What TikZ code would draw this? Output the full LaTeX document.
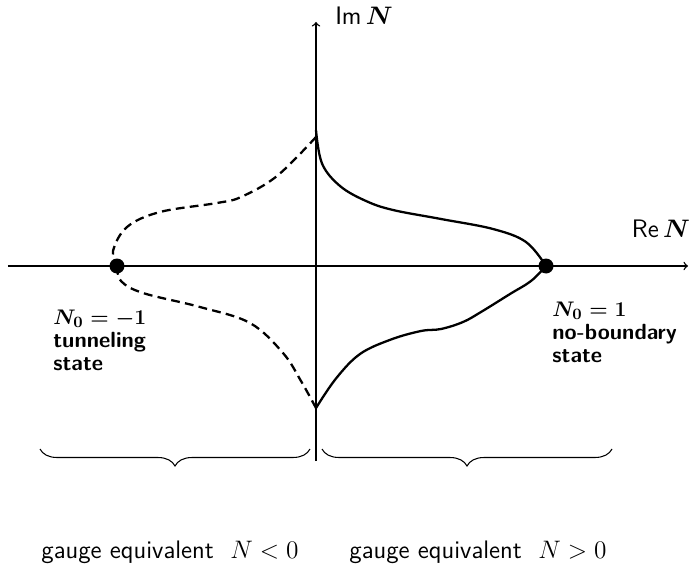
\documentclass[tikz,border=0pt]{standalone}
\usepackage{amsmath}
\usepackage{amssymb}
\usepackage{xcolor}
\usepackage{tikz}
\usetikzlibrary{decorations.pathreplacing}

\begin{document}
\begin{tikzpicture}[
    axis/.style={line width=0.8pt, ->},
    path/.style={line width=1.3pt},
    pathdash/.style={line width=1.3pt, dash pattern=on 5pt off 3pt},
    dot/.style={circle, fill=black, inner sep=0pt, minimum size=0.3cm},
    statelbl/.style={anchor=north west, align=left, inner sep=0pt,
        font=\fontsize{12.5}{13}\selectfont\bfseries\sffamily\boldmath},
    bracedown/.style={decorate, decoration={brace, mirror, amplitude=0.34cm}, line width=0.6pt},
    gaugelbl/.style={font=\Large\sffamily}
]

\useasboundingbox (-6.32,-5.94) rectangle (7.46,5.32);

% axes
\draw[axis] (-6.16,0) -- (7.44,0);
\draw[axis] (0,-3.9) -- (0,4.88);
\node[font=\Large] (imlbl) at (0.96,5.0) {$\mathsf{Im}\,\boldsymbol{N}$};
\node[font=\Large] (relbl) at (6.9,0.74) {$\mathsf{Re}\,\boldsymbol{N}$};

% contour for N>0
\draw[path] plot[smooth, tension=0.6] coordinates {
(0,2.72) (0.12,2.05) (0.48,1.6) (1.0,1.3) (1.54,1.12) (2.5,0.94) (3.54,0.74) (4.2,0.48) (4.6,0)};
\draw[path] plot[smooth, tension=0.6] coordinates {
(4.6,0) (4.3,-0.3) (3.88,-0.56) (3.3,-0.92) (2.94,-1.12) (2.5,-1.26) (2.1,-1.3) (1.5,-1.47) (0.88,-1.76) (0.4,-2.25) (0,-2.84)};

% contour for N<0
\draw[pathdash] plot[smooth, tension=0.6] coordinates {
(0,2.58) (-0.78,1.8) (-1.5,1.38) (-1.98,1.26) (-3.12,1.08) (-3.78,0.78) (-4.06,0.3) (-3.98,0)};
\draw[pathdash] plot[smooth, tension=0.6] coordinates {
(-3.98,0) (-3.9,-0.3) (-3.46,-0.54) (-2.32,-0.82) (-1.32,-1.14) (-0.66,-1.74) (-0.3,-2.3) (0,-2.84)};

% saddle points
\node[dot] (tunnel) at (-3.98,0) {};
\node[dot] (noboundary) at (4.6,0) {};
\node[statelbl] (tunnellbl) at (-5.26,-0.88) {$N_0=-1$\\tunneling\\state};
\node[statelbl] (noboundarylbl) at (4.72,-0.72) {$N_0=1$\\no-boundary\\state};

% gauge equivalent halves
\draw[bracedown] (-5.52,-3.66) -- (-0.12,-3.66);
\draw[bracedown] (0.12,-3.66) -- (5.92,-3.66);
\node[gaugelbl] (gaugeneg) at (-2.92,-5.72) {gauge equivalent\ \ $N<0$};
\node[gaugelbl] (gaugepos) at (3.24,-5.72) {gauge equivalent\ \ $N>0$};

\end{tikzpicture}
\end{document}
